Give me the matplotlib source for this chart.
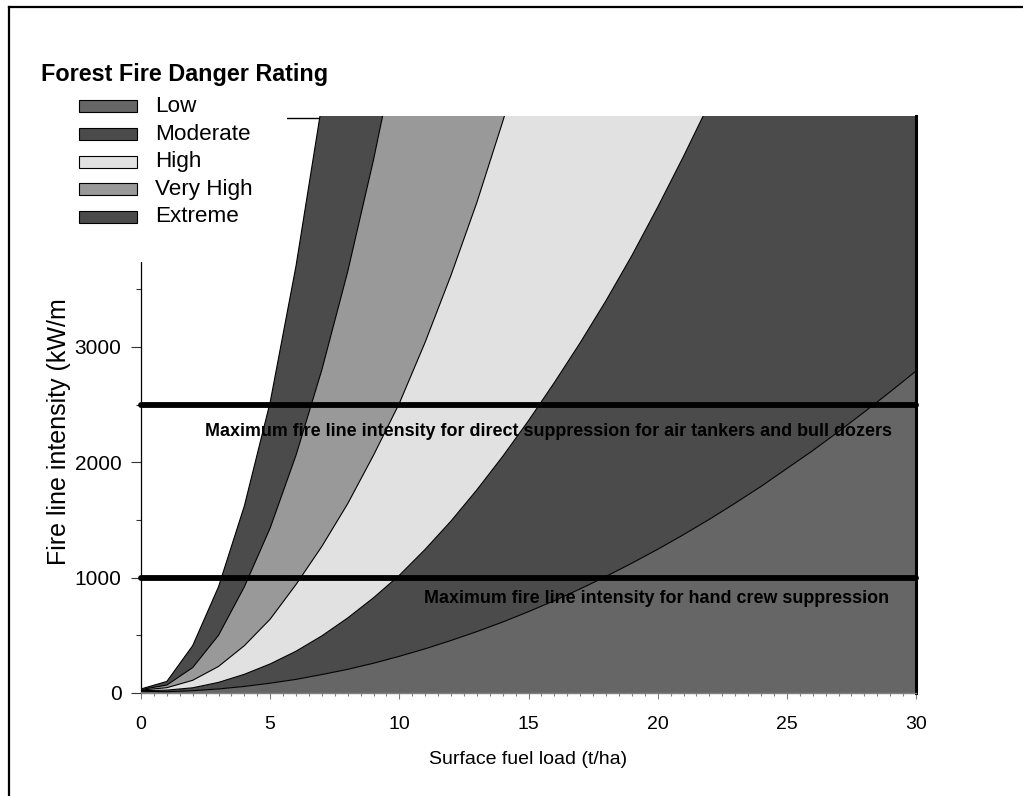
import matplotlib
matplotlib.use('Agg')
import matplotlib.pyplot as plt
from matplotlib import font_manager
from matplotlib.lines import Line2D
from matplotlib.patches import Rectangle
from matplotlib.ticker import MultipleLocator
import numpy as np

plt.rcParams['font.family'] = ['Liberation Sans', 'DejaVu Sans']

# ---------------- data ----------------
fuel_load = list(range(0, 31))  # t/ha

# upper boundary of each danger class (kW/m), read at integer fuel loads
low_upper = [15, 11, 20, 35, 57, 85, 118, 160, 205, 258, 318, 383, 455, 532, 615,
             705, 800, 902, 1010, 1125, 1245, 1372, 1505, 1645, 1790, 1945, 2100,
             2265, 2435, 2610, 2790]
moderate_upper = [20, 25, 45, 92, 162, 252, 362, 495, 650, 825, 1020, 1245, 1490,
                  1760, 2050, 2360, 2690, 3035, 3400, 3790, 4210, 4650, 5110, 5590]
high_upper = [25, 46, 110, 230, 410, 640, 940, 1270, 1640, 2060, 2510, 3040, 3620,
              4250, 4950, 5700]
veryhigh_upper = [30, 69, 220, 500, 920, 1430, 2060, 2800, 3650, 4620, 5700]
extreme_upper = [35, 100, 410, 920, 1620, 2520, 3700, 5100, 6400]

classes = ['Low', 'Moderate', 'High', 'Very High', 'Extreme']
class_colors = ['#666666', '#4b4b4b', '#e1e1e1', '#999999', '#4b4b4b']

limit_values = [2500, 1000]
limit_labels = ['Maximum fire line intensity for direct suppression for air tankers and bull dozers',
                'Maximum fire line intensity for hand crew suppression']
limit_label_pos = [(15.76, 2262), (19.96, 823)]

x_ticks = [0, 5, 10, 15, 20, 25, 30]
y_ticks = [0, 1000, 2000, 3000]

# ---------------- figure ----------------
W, H = 1023, 796
fig = plt.figure(figsize=(W / 100, H / 100), dpi=100)
fig.patch.set_facecolor('white')

ax_l, ax_r, ax_t, ax_b = 141, 916, 116, 693
ax = fig.add_axes([ax_l / W, (H - ax_b) / H, (ax_r - ax_l) / W, (ax_b - ax_t) / H])
ax.set_xlim(0, 30)
ax.set_ylim(0, 5000)

xg = np.array(fuel_load, dtype=float)
def curve(vals):
    return np.interp(xg, np.arange(len(vals)), np.array(vals, dtype=float))

bounds = [np.zeros_like(xg)] + [curve(v) for v in
          [low_upper, moderate_upper, high_upper, veryhigh_upper, extreme_upper]]

for i in range(5):
    ax.fill_between(xg, bounds[i], bounds[i + 1], facecolor=class_colors[i],
                    edgecolor='none', linewidth=0, zorder=3)
for i in range(1, 6):
    ax.plot(xg, bounds[i], color='black', lw=0.8, zorder=5)

# limit lines and labels
try:
    font_manager.findfont(font_manager.FontProperties(family='Liberation Sans Narrow'),
                          fallback_to_default=False)
    fs_narrow = 'Liberation Sans Narrow'
except Exception:
    fs_narrow = None

for val, lab, (tx, ty) in zip(limit_values, limit_labels, limit_label_pos):
    ax.plot([0, 30], [val, val], color='black', lw=4.2, solid_capstyle='round',
            zorder=6, clip_on=False)
    if fs_narrow:
        ax.text(tx, ty, lab, ha='center', va='center', fontsize=15.6,
                fontweight='bold', family=[fs_narrow, 'Liberation Sans'], zorder=4.5)
    else:
        ax.text(tx, ty, lab, ha='center', va='center', fontsize=12.9,
                fontweight='bold', zorder=4.5)

# spines
ax.spines['top'].set_position(('axes', 0.996))
ax.spines['top'].set_linewidth(1.0)
ax.spines['top'].set_zorder(2)
ax.spines['right'].set_linewidth(2.2)
ax.spines['right'].set_zorder(7)
ax.spines['left'].set_linewidth(0.9)
ax.spines['bottom'].set_color('#808080')
ax.spines['bottom'].set_linewidth(1.0)
ax.spines['bottom'].set_zorder(7)

ax.set_xticks(x_ticks)
ax.set_yticks(y_ticks)
ax.xaxis.set_minor_locator(MultipleLocator(0.5))
ax.yaxis.set_minor_locator(MultipleLocator(500))
ax.tick_params(axis='x', which='major', length=4.5, width=0.8, color='#808080',
               labelsize=14, pad=12, direction='out')
ax.tick_params(axis='x', which='minor', length=2, width=0.8, color='#808080', direction='out')
ax.tick_params(axis='y', which='major', length=7, width=0.8, color='#333333',
               labelsize=15, pad=7, direction='out')
ax.tick_params(axis='y', which='minor', length=3.6, width=0.8, color='#333333', direction='out')
ax.tick_params(top=False, right=False, which='both')

fig.text(528 / W, (H - 760) / H, 'Surface fuel load (t/ha)', ha='center', va='center',
         fontsize=14)
fig.text(59 / W, (H - 432) / H, 'Fire line intensity (kW/m', ha='center', va='center',
         rotation=90, fontsize=18)

# ---------------- legend block (white panel) ----------------
lx0, lx1, ly0, ly1 = 11, 287, 9, 262
lax = fig.add_axes([lx0 / W, (H - ly1) / H, (lx1 - lx0) / W, (ly1 - ly0) / H], zorder=10)
lax.set_xlim(lx0, lx1)
lax.set_ylim(ly1, ly0)
lax.set_facecolor('white')
lax.set_xticks([])
lax.set_yticks([])
for s in lax.spines.values():
    s.set_visible(False)
lax.text(41, 75, 'Forest Fire Danger Rating', ha='left', va='center', fontsize=16.8,
         fontweight='bold')
centers = [106, 134, 162, 189, 217]
for name, col, cy in zip(classes, class_colors, centers):
    lax.add_patch(Rectangle((79, cy - 6), 58, 12, facecolor=col, edgecolor='black', lw=0.8))
    lax.text(155, cy, name, ha='left', va='center', fontsize=16.2)

# ---------------- outer frame ----------------
fig.add_artist(Line2D([9 / W, 9 / W], [0, (H - 7) / H], transform=fig.transFigure,
                      color='black', lw=1.6))
fig.add_artist(Line2D([9 / W, 1], [(H - 7) / H, (H - 7) / H], transform=fig.transFigure,
                      color='black', lw=1.6))

fig.savefig('out.png', dpi=100, facecolor='white')
